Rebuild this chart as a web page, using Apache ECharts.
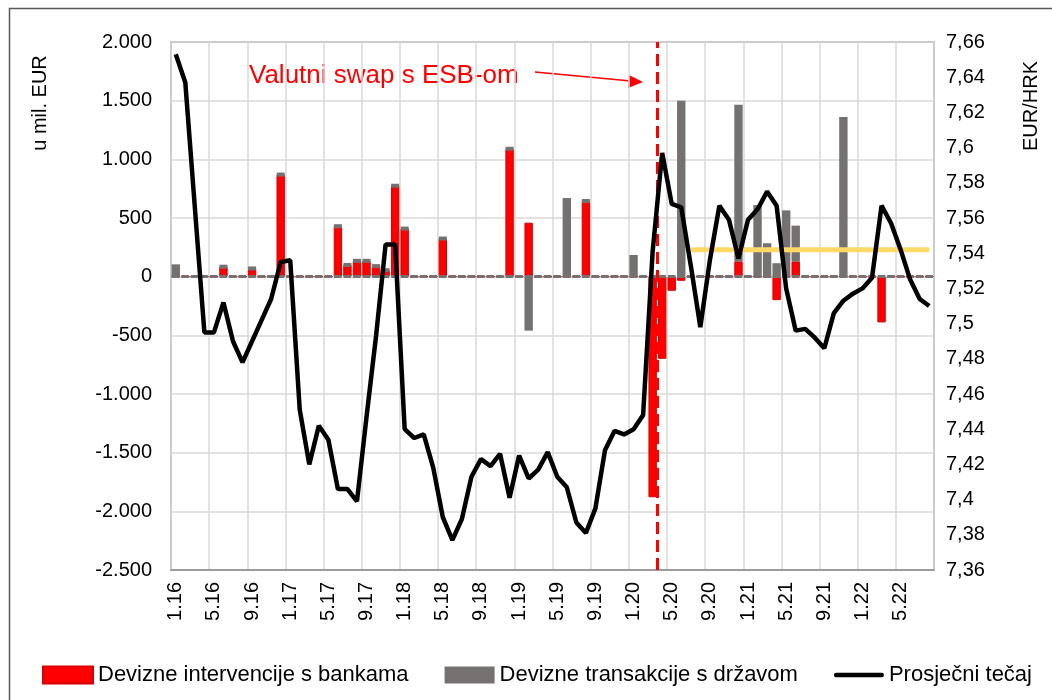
<!DOCTYPE html>
<html>
<head>
<meta charset="utf-8">
<script src="https://cdn.jsdelivr.net/npm/echarts@6/dist/echarts.min.js"></script>
<style>
html, body { margin: 0; padding: 0; background: #fff; }
#chart { width: 1052px; height: 700px; }
</style>
</head>
<body>
<div id="chart"></div>
<script>
// mjesečni podaci, 1.16 - 8.22
var categories = [
    '1.16','2.16','3.16','4.16','5.16','6.16','7.16','8.16','9.16','10.16','11.16','12.16',
    '1.17','2.17','3.17','4.17','5.17','6.17','7.17','8.17','9.17','10.17','11.17','12.17',
    '1.18','2.18','3.18','4.18','5.18','6.18','7.18','8.18','9.18','10.18','11.18','12.18',
    '1.19','2.19','3.19','4.19','5.19','6.19','7.19','8.19','9.19','10.19','11.19','12.19',
    '1.20','2.20','3.20','4.20','5.20','6.20','7.20','8.20','9.20','10.20','11.20','12.20',
    '1.21','2.21','3.21','4.21','5.21','6.21','7.21','8.21','9.21','10.21','11.21','12.21',
    '1.22','2.22','3.22','4.22','5.22','6.22','7.22','8.22'
];

// devizne intervencije s bankama (mil. EUR)
var intervencije = [
    0, 0, 0, 0, 0, 85, 0, 0, 70, 0, 0, 870,
    0, 0, 0, 0, 0, 430, 100, 135, 135, 90, 55, 775,
    410, 0, 0, 0, 325, 0, 0, 0, 0, 0, 0, 1090,
    0, 460, 0, 0, 0, 0, 0, 645, 0, 0, 0, 0,
    0, 0, -1880, -700, -120, -35, 0, 0, 0, 0, 0, 130,
    0, 0, 0, -200, 0, 130, 0, 0, 0, 0, 0, 0,
    0, 0, -390, 0, 0, 0, 0, 0
];

// devizne transakcije s državom (mil. EUR)
var transakcije = [
    105, 0, 0, 0, 0, 0, 0, 0, 0, 0, 0, 0,
    0, 0, 0, 0, 0, 0, 0, 0, 0, 0, 0, 0,
    0, 0, 0, 0, 0, 0, 0, 0, 0, 0, 0, 0,
    0, -460, 0, 0, 0, 670, 0, 0, 0, 0, 0, 0,
    185, 0, 0, 0, 0, 1500, 0, 0, 0, 0, 0, 1335,
    0, 610, 285, 115, 565, 305, 0, 0, 0, 0, 1360, 0,
    0, 0, 0, 0, 0, 0, 0, 0
];

// prosječni tečaj EUR/HRK
var tecaj = [
    7.653, 7.637, 7.566, 7.495, 7.495, 7.512, 7.490, 7.478, 7.490, 7.502, 7.514, 7.535,
    7.536, 7.451, 7.420, 7.442, 7.434, 7.406, 7.406, 7.399, 7.447, 7.493, 7.545, 7.545,
    7.440, 7.435, 7.437, 7.418, 7.390, 7.377, 7.389, 7.413, 7.423, 7.419, 7.426, 7.401,
    7.425, 7.412, 7.417, 7.427, 7.413, 7.407, 7.387, 7.381, 7.395, 7.428, 7.439, 7.437,
    7.440, 7.448, 7.541, 7.597, 7.568, 7.566, 7.533, 7.498, 7.536, 7.567, 7.559, 7.537,
    7.559, 7.565, 7.575, 7.567, 7.520, 7.496, 7.497, 7.492, 7.486, 7.506, 7.513, 7.517,
    7.520, 7.526, 7.567, 7.557, 7.542, 7.525, 7.514, 7.510
];

// referentna razina tečaja od ulaska u ERM II (7.20)
var ermPocetak = '7.20';
var ermRazina = 7.542;
// položaj oznake valutnog swapa (u mjesecima od početka osi)
var swapPolozaj = 50.95;

var FONT = '"Liberation Sans", Arial, sans-serif';
var ermStart = categories.indexOf(ermPocetak);
var paritet = categories.map(function (c, i) { return i >= ermStart ? ermRazina : null; });
var kapice = intervencije.map(function (v, i) { return v > 0 && transakcije[i] === 0 ? v : '-'; });

var myChart = echarts.init(document.getElementById('chart'));

var option = {
    backgroundColor: '#fff',
    animation: false,
    textStyle: { fontFamily: FONT },
    grid: {
        left: 171, right: 118, top: 42, bottom: 130,
        show: true, borderColor: '#8c8c8c', borderWidth: 1.5
    },
    legend: {
        data: [
            { name: 'Devizne intervencije s bankama', icon: 'rect' },
            { name: 'Devizne transakcije s državom', icon: 'rect' },
            {
                name: 'Prosječni tečaj',
                icon: 'path://M2,0 L44,0 A2,2 0 0 1 44,4 L2,4 A2,2 0 0 1 2,0 Z',
                itemStyle: { color: '#000' }
            }
        ],
        left: 37, top: 659,
        itemWidth: 50, itemHeight: 17, itemGap: 36,
        textStyle: { fontSize: 22, color: '#000', fontFamily: FONT }
    },
    xAxis: [
        {
            type: 'category',
            data: categories,
            boundaryGap: true,
            axisLine: { onZero: false, lineStyle: { color: '#8c8c8c', width: 1.5 } },
            axisTick: { show: false },
            axisLabel: { interval: 3, rotate: 90, fontSize: 20, color: '#000', margin: 12, fontFamily: FONT },
            splitLine: { show: true, interval: 3, lineStyle: { color: '#d9d9d9', width: 1.5 } }
        },
        { type: 'value', min: 0, max: 80, show: false, splitLine: { show: false } }
    ],
    yAxis: [
        {
            type: 'value', min: -2500, max: 2000, interval: 500,
            axisLine: { show: false }, axisTick: { show: false },
            axisLabel: {
                fontSize: 20, color: '#000', margin: 19, fontFamily: FONT,
                formatter: function (v) {
                    var s = Math.abs(v).toString().replace(/\B(?=(\d{3})+(?!\d))/g, '.');
                    return (v < 0 ? '-' : '') + s;
                }
            },
            splitLine: { lineStyle: { color: '#d9d9d9', width: 1.5 } }
        },
        {
            type: 'value', position: 'right', min: 7.36, max: 7.66, interval: 0.02,
            axisLine: { show: false }, axisTick: { show: false },
            axisLabel: {
                fontSize: 20, color: '#000', margin: 12, fontFamily: FONT,
                formatter: function (v) { return parseFloat(v.toFixed(2)).toString().replace('.', ','); }
            },
            splitLine: { show: false }
        }
    ],
    series: [
        {
            // isprekidana nul-linija ispod stupaca
            name: 'nula',
            type: 'line',
            data: [],
            symbol: 'none',
            silent: true,
            z: 1,
            markLine: {
                silent: true,
                symbol: 'none',
                label: { show: false },
                lineStyle: { color: '#767171', width: 3, type: [7.5, 2.04], dashOffset: -0.8 },
                data: [{ yAxis: 0 }]
            }
        },
        {
            name: 'Devizne intervencije s bankama',
            type: 'bar',
            stack: 'fx',
            barCategoryGap: '12%',
            data: intervencije,
            itemStyle: { color: '#ff0000', borderColor: '#d80000', borderWidth: 1 },
            z: 2
        },
        {
            name: 'Devizne transakcije s državom',
            type: 'bar',
            stack: 'fx',
            data: transakcije,
            itemStyle: { color: '#767171' },
            z: 2
        },
        {
            name: 'kapice',
            type: 'pictorialBar',
            data: kapice,
            symbol: 'rect',
            symbolSize: [8, 4],
            symbolPosition: 'end',
            symbolOffset: [0, '-50%'],
            itemStyle: { color: '#767171' },
            silent: true,
            z: 3
        },
        {
            name: 'ERM II',
            type: 'line',
            yAxisIndex: 1,
            data: paritet,
            symbol: 'none',
            lineStyle: { color: '#ffd966', width: 5 },
            itemStyle: { color: '#ffd966' },
            silent: true,
            z: 3
        },
        {
            name: 'swap',
            type: 'line',
            xAxisIndex: 1,
            yAxisIndex: 0,
            data: [],
            symbol: 'none',
            silent: true,
            z: 4,
            markLine: {
                silent: true,
                symbol: 'none',
                label: { show: false },
                lineStyle: { color: '#ff0000', width: 3, type: [12, 6] },
                data: [{ xAxis: swapPolozaj }]
            }
        },
        {
            name: 'Prosječni tečaj',
            type: 'line',
            yAxisIndex: 1,
            data: tecaj,
            symbol: 'none',
            lineStyle: { color: '#000', width: 4.5 },
            itemStyle: { color: '#000' },
            z: 5
        }
    ],
    graphic: [
        {
            type: 'rect', silent: true,
            shape: { x: 9.5, y: 8.5, width: 1100, height: 800 },
            style: { fill: 'none', stroke: '#595959', lineWidth: 1.5 }
        },
        {
            type: 'text', x: 40, y: 103, rotation: Math.PI / 2,
            style: { text: 'u mil. EUR', fontSize: 20, fontFamily: FONT, fill: '#000', align: 'center', verticalAlign: 'middle' }
        },
        {
            type: 'text', x: 1031, y: 106, rotation: Math.PI / 2,
            style: { text: 'EUR/HRK', fontSize: 20, fontFamily: FONT, fill: '#000', align: 'center', verticalAlign: 'middle' }
        },
        {
            type: 'text', x: 249, y: 76,
            style: { text: 'Valutni swap s ESB-om', fontSize: 26, fontFamily: FONT, fill: '#ff0000', align: 'left', verticalAlign: 'middle' }
        },
        {
            type: 'line', silent: true,
            shape: { x1: 535, y1: 72, x2: 631, y2: 81 },
            style: { stroke: '#ff0000', lineWidth: 1.5 }
        },
        {
            type: 'polygon', silent: true,
            shape: { points: [[643, 82], [629, 75], [628, 88]] },
            style: { fill: '#ff0000' }
        }
    ]
};

myChart.setOption(option);
</script>
</body>
</html>
